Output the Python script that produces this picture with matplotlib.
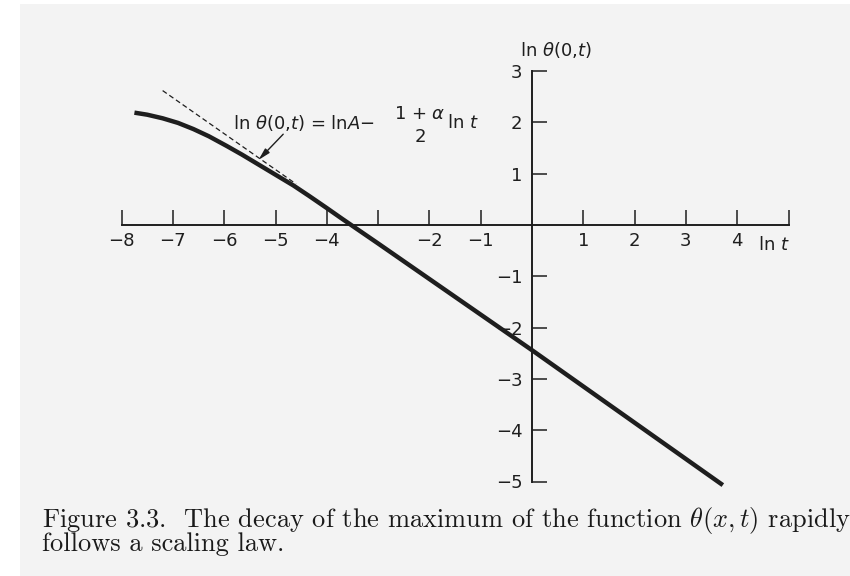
import matplotlib
matplotlib.use("Agg")
import matplotlib.pyplot as plt
from matplotlib.patches import Rectangle

plt.rcParams['font.family'] = 'DejaVu Sans'
plt.rcParams['mathtext.fontset'] = 'dejavusans'

# ln theta(0, t) against ln t
curve_x = [-7.75, -7.5, -7.2, -6.9, -6.6, -6.3, -5.95, -5.65, -5.3, -5.0,
           -4.65, -4.35, -4.0, -3.7, -3.35, -3.0, 0.0, 3.72]
curve_y = [2.19, 2.15, 2.08, 1.99, 1.87, 1.73, 1.54, 1.37, 1.16, 0.98,
           0.77, 0.57, 0.33, 0.12, -0.12, -0.36, -2.44, -5.07]

# asymptote ln A - (1+alpha)/2 ln t, dashed part only
asym_x = [-7.2, -4.6]
asym_y = [2.62, 0.80]

xticks = [-8, -7, -6, -5, -4, -3, -2, -1, 1, 2, 3, 4, 5]
xtick_labels = ['\u22128', '\u22127', '\u22126', '\u22125', '\u22124', '',
                '\u22122', '\u22121', '1', '2', '3', '4', '']
yticks = [-5, -4, -3, -2, -1, 1, 2, 3]
ytick_labels = ['\u22125', '\u22124', '\u22123', '\u22122', '\u22121', '1', '2', '3']

W, H = 850, 576
x0_px, y0_px, unit_px = 532, 225, 51.3

fig = plt.figure(figsize=(W / 100, H / 100), dpi=100, facecolor='white')

# scanned page
fig.patches.append(Rectangle((20 / W, 0), 1, 1 - 4 / H, transform=fig.transFigure,
                             facecolor='#f3f3f3', edgecolor='none', zorder=-10))

ax = fig.add_axes([0, 0, 1, 1])
ax.set_xlim(-x0_px / unit_px, (W - x0_px) / unit_px)
ax.set_ylim(-(H - y0_px) / unit_px, y0_px / unit_px)
ax.patch.set_visible(False)

ink = '#1e1e1e'
for side in ['top', 'right']:
    ax.spines[side].set_visible(False)
ax.spines['left'].set_position(('data', 0))
ax.spines['bottom'].set_position(('data', 0))
ax.spines['bottom'].set_bounds(-8, 5)
ax.spines['left'].set_bounds(-5, 3)
for side in ['left', 'bottom']:
    ax.spines[side].set_linewidth(1.4)
    ax.spines[side].set_color(ink)

ax.set_xticks(xticks)
ax.set_xticklabels(xtick_labels)
ax.set_yticks(yticks)
ax.set_yticklabels(ytick_labels)
ax.tick_params(axis='x', direction='in', length=11, width=1.1, color=ink,
               labelsize=13, labelcolor=ink, pad=5)
ax.tick_params(axis='y', direction='in', length=11, width=1.1, color=ink,
               labelsize=13, labelcolor=ink, pad=7)

ax.plot(curve_x, curve_y, color=ink, lw=3.2, solid_capstyle='butt',
        solid_joinstyle='round')
ax.plot(asym_x, asym_y, color=ink, lw=0.9, dashes=(4, 2.5))

ax.text(0.47, 3.41, r'ln $\theta$(0,$t$)', ha='center', va='center', fontsize=13, color=ink)
ax.text(4.72, -0.39, r'ln $t$', ha='center', va='center', fontsize=13, color=ink)

# formula for the asymptote
ax.text(-5.83, 1.99, r'ln $\theta$(0,$t$) = ln$A$' + '\u2212', ha='left', va='center',
        fontsize=13, color=ink)
ax.text(-2.18, 2.17, r'1 + $\alpha$', ha='center', va='center', fontsize=13, color=ink)
ax.text(-2.18, 1.71, '2', ha='center', va='center', fontsize=13, color=ink)
ax.text(-1.66, 1.99, r'ln $t$', ha='left', va='center', fontsize=13, color=ink)
ax.annotate('', xy=(-5.33, 1.27), xytext=(-4.85, 1.77),
            arrowprops=dict(arrowstyle='-|>,head_length=0.7,head_width=0.18',
                            color=ink, lw=1.0, shrinkA=0, shrinkB=0))

caption = ('Figure 3.3.  The decay of the maximum of the function $\\theta(x,t)$ rapidly\n'
           'follows a scaling law.')
fig.text(42 / W, 1 - 504.5 / H, caption, va='top', ha='left', linespacing=0.83,
         family='cmr10', fontsize=19, color='#1a1a1a', math_fontfamily='cm')

fig.savefig('out.png', dpi=100)
